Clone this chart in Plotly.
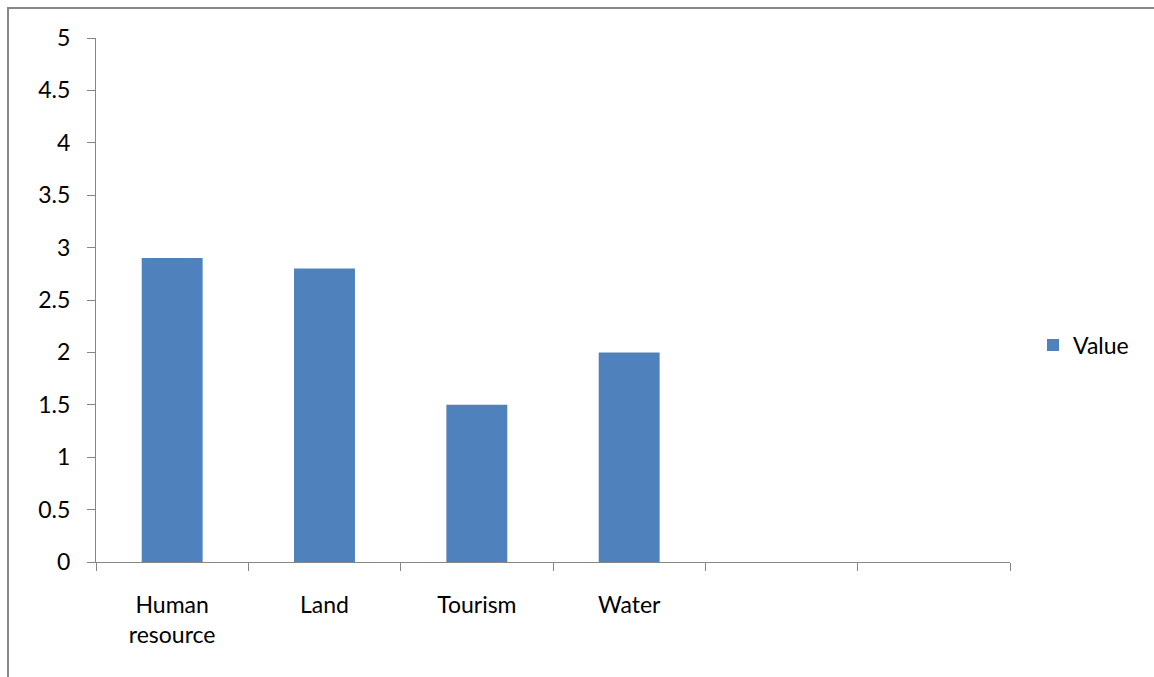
import plotly.graph_objects as go

# Resource categories (two trailing slots are empty on the axis)
categories = ["Human<br>resource", "Land", "Tourism", "Water", " ", "  "]
values = [2.9, 2.8, 1.5, 2.0, None, None]
y_ticks = [0, 0.5, 1, 1.5, 2, 2.5, 3, 3.5, 4, 4.5, 5]
y_tick_labels = ["0", "0.5", "1", "1.5", "2", "2.5", "3", "3.5", "4", "4.5", "5"]
series_name = "Value"

W, H = 1154, 677
L, R, T, B = 96, 144, 38, 115
plot_w, plot_h = W - L - R, H - T - B

AXIS_GRAY = "#868686"
BAR_BLUE = "#4F81BD"
FONT = "Lato"
FS = 23

fig = go.Figure(
    go.Bar(
        x=categories,
        y=values,
        name=series_name,
        marker=dict(color=BAR_BLUE, line=dict(width=0)),
        showlegend=True,
    )
)

# Outer chart border (left and top edges visible)
bx0 = (8 - L) / plot_w
by1 = (H - B - 8) / plot_h
fig.add_shape(
    type="rect", xref="paper", yref="paper",
    x0=bx0, x1=1.5, y0=-1.0, y1=by1,
    line=dict(color="#878787", width=2),
    fillcolor="rgba(0,0,0,0)", layer="below",
)

fig.update_layout(
    width=W, height=H,
    margin=dict(l=L, r=R, t=T, b=B, autoexpand=False),
    paper_bgcolor="white", plot_bgcolor="white",
    font=dict(family=FONT, size=FS, color="#000000"),
    bargap=0.6,
    showlegend=True,
    legend=dict(
        x=(1033 - L) / plot_w, xanchor="left",
        y=(H - B - 345) / plot_h, yanchor="middle",
        font=dict(family=FONT, size=FS),
        bgcolor="rgba(0,0,0,0)",
        itemwidth=30,
    ),
)

fig.update_xaxes(
    type="category",
    categoryorder="array", categoryarray=categories,
    range=[-0.5, 5.5],
    tickson="boundaries",
    ticks="outside", ticklen=8, tickwidth=1, tickcolor=AXIS_GRAY,
    showline=True, linecolor=AXIS_GRAY, linewidth=1,
    showgrid=False, zeroline=False,
    ticklabelstandoff=22,
    tickfont=dict(family=FONT, size=FS),
)

fig.update_yaxes(
    range=[0, 5],
    tickvals=y_ticks, ticktext=y_tick_labels,
    ticks="outside", ticklen=8, tickwidth=1, tickcolor=AXIS_GRAY,
    showline=True, linecolor=AXIS_GRAY, linewidth=1,
    showgrid=False, zeroline=False,
    ticklabelstandoff=12,
    tickfont=dict(family=FONT, size=FS),
)

fig.write_html("out.html")
